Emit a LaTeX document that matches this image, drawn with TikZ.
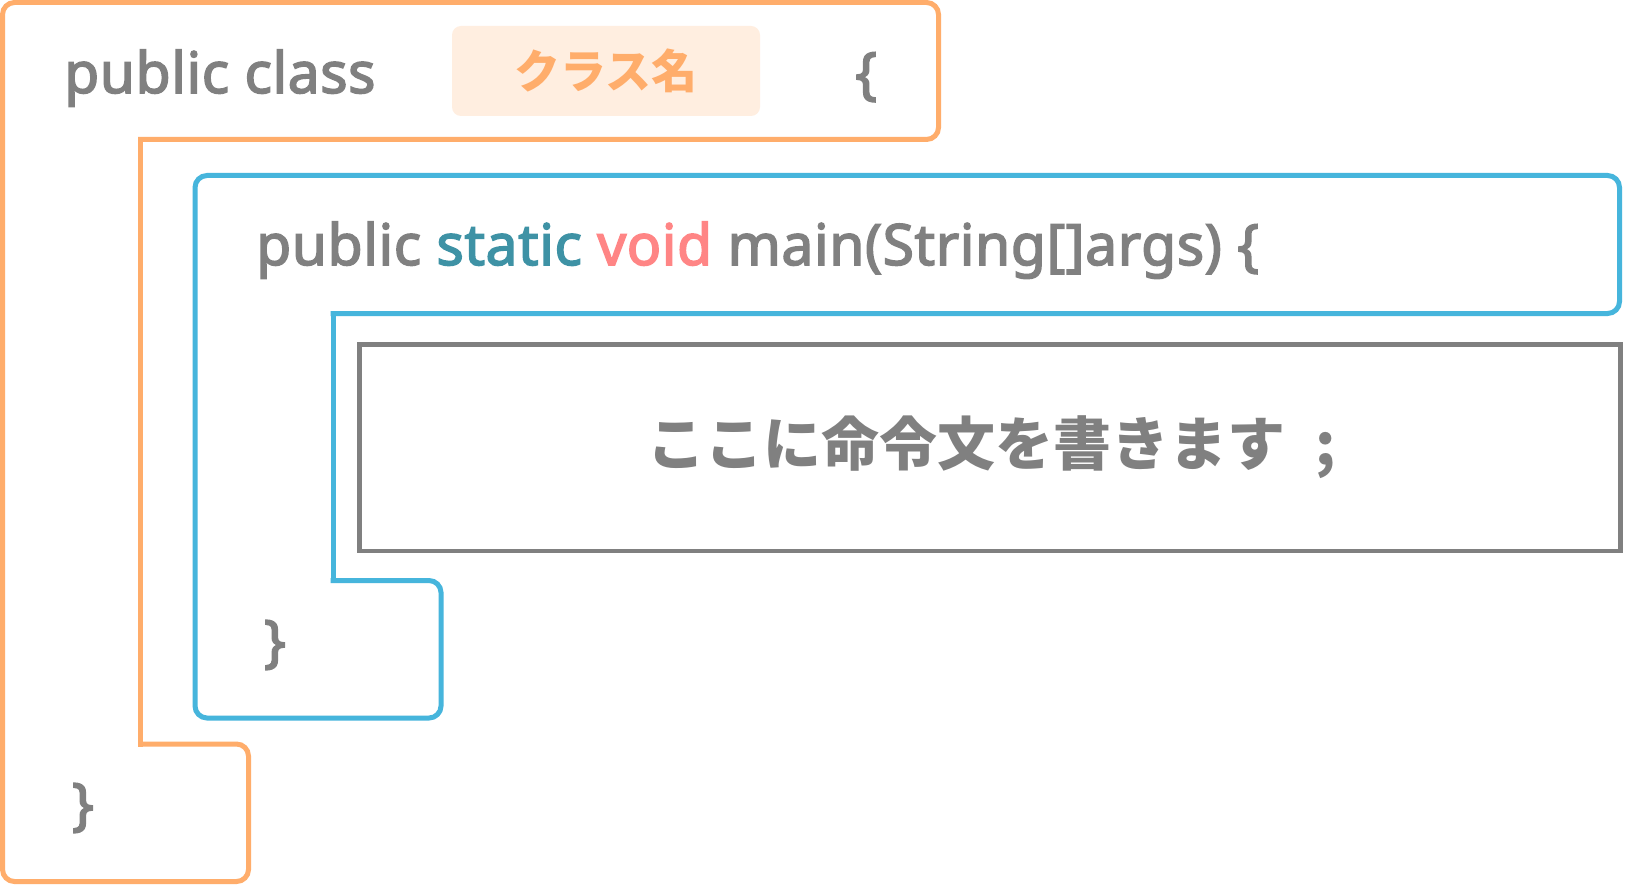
\documentclass[tikz,border=0pt]{standalone}
\usepackage{fontspec}
\newfontfamily\codefont{Noto Sans}[FakeBold=2.7, LetterSpace=1.0]
\newfontfamily\jpfont{Noto Sans CJK JP}
\definecolor{og}{HTML}{FFAD6B}
\definecolor{bl}{HTML}{46B5DC}
\definecolor{gr}{HTML}{808080}
\definecolor{tl}{HTML}{3E92A5}
\definecolor{pk}{HTML}{FF8585}
\definecolor{peach}{HTML}{FFEEE0}
\tikzset{
  orangeline/.style={draw=og, line width=5pt, line cap=rect},
  blueline/.style={draw=bl, line width=5pt, line cap=rect},
  code/.style={inner sep=0pt, text=gr, font=\codefont\fontsize{57}{60}\selectfont},
  jptext/.style={inner sep=0pt, text=gr, font=\jpfont\bfseries\fontsize{58}{62}\selectfont},
  namebox/.style={fill=peach, rounded corners=9pt, minimum width=308pt, minimum height=90pt,
    inner sep=0pt, text=og, font=\jpfont\bfseries\fontsize{46}{50}\selectfont},
  stmtbox/.style={draw=gr, line width=4.5pt, minimum width=1261pt, minimum height=206.5pt, inner sep=0pt},
}
\begin{document}
\begin{tikzpicture}[x=1pt,y=-1pt]
\useasboundingbox[fill=white] (0,0) rectangle (1627,885);
% class outline (orange)
\draw[orangeline, rounded corners=12pt] (140.5,744) -- (248.5,744) -- (248.5,881.5) -- (2.5,881.5)
  -- (2.5,2.5) -- (938.5,2.5) -- (938.5,139.5) -- (140.5,139.5);
\draw[orangeline] (140.5,139.5) -- (140.5,744);
% method outline (blue)
\draw[blueline, rounded corners=12pt] (333,580.5) -- (441,580.5) -- (441,718) -- (195,718)
  -- (195,175.5) -- (1619.5,175.5) -- (1619.5,313.5) -- (333,313.5);
\draw[blueline] (333,313.5) -- (333,580.5);
% statement box
\node[stmtbox] (sbox) at (990,447.75) {};
\node[jptext] (stmt) at (992,447) {ここに命令文を書きます\hspace{30pt};};
% texts
\node[code, anchor=base west] (pc) at (64,93) {public class};
\node[namebox] (cname) at (606,71) {クラス名};
\node[code, anchor=base west] (ob1) at (855,93) {\{};
\node[code, anchor=base west] (mline) at (256,265) {public {\color{tl}static} {\color{pk}void} main(String[]args) \{};
\node[code] (cb2) at (275,645) {\}};
\node[code] (cb1) at (83,808) {\}};
\end{tikzpicture}
\end{document}
